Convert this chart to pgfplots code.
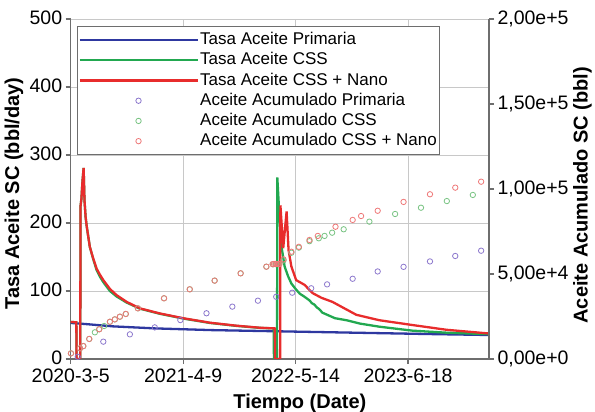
\documentclass[border=0pt]{standalone}
\usepackage{pgfplots}
\pgfplotsset{compat=1.18}
\usepackage{fontspec}
\setmainfont{Liberation Sans}
\definecolor{cblue}{RGB}{46,56,160}
\definecolor{cgreen}{RGB}{34,168,80}
\definecolor{cred}{RGB}{232,44,44}
\definecolor{mblue}{RGB}{140,120,205}
\definecolor{mgreen}{RGB}{120,195,130}
\definecolor{mred}{RGB}{238,120,120}
\definecolor{gridc}{RGB}{200,200,200}
\definecolor{axisc}{RGB}{110,110,110}
\newcommand\tickfont{\fontsize{19.5}{23}\selectfont}
\newcommand\labfont{\fontsize{20}{24}\selectfont\bfseries}
\newcommand\legfont{\fontsize{17}{20}\selectfont}
\pgfplotsset{
  lineleg/.style={legend image code/.code={\draw[mark repeat=2,mark phase=2,##1] plot coordinates {(0pt,0pt) (59pt,0pt) (118pt,0pt)};}},
  markleg/.style={legend image code/.code={\draw[##1] plot coordinates {(59pt,0pt)};}},
}

\pgfplotstableread{
d v
0 53
50 51.5
150 48
300 45
500 42.5
700 41
900 39.5
1100 38
1300 36.5
1488 35.3
}\ratePrim

\pgfplotstableread{
d v
0 54.5
20 54
21 0
34 0
35 225
38 235
42 262
46 281
49 234
53 209
57 195
68 165
80 147
92 131
104 121
116 113
139.5 100
163 92
199 83
246 74
317 66.5
400 59.5
495 53
589 48.7
672 45.8
722 45
723 0
734 0
735 267
740 229
745 195
750 165
761 136
773 122
785 111
800 103
815 96
830 92
850 86
858 82
867 80
875 76
882 74
896 68
940 60
981 57
1030 52
1098 47.5
1215 41.7
1336 38.7
1488 36.5
}\rateCSS

\pgfplotstableread{
d v
0 54.5
20 54
21 0
34 0
35 225
38 235
42 262
46 281
49 234
53 209
57 195
68 165
80 148
92 133
104 124
116 116
139.5 103
163 94
199 84
246 74.5
317 67
400 60
495 53.4
589 49
672 46
726 45
727 0
745 0
746 226
756 163
768 217
775 160
785 136
802 116
832 109
860 97
892 90
931 84
1016 65
1098 57
1215 50
1336 43
1488 37.5
}\rateNano

\pgfplotstableread{
d c
25 1300
116 10200
210.5 14500
299 18600
390 22900
483 26900
575 30800
666 34300
731 36600
788 39000
855.5 41600
912 43900
1003 47200
1092 51500
1184 54200
1278 57400
1368 60600
1460 63700
}\cumPrim

\pgfplotstableread{
d c
1 3300
33 6300
45 7600
66 11800
86 15700
101.5 17500
119 19400
139.5 21900
157 23300
175 24900
196 26500
239 29800
332 35700
423.5 41000
512 46100
604.5 50400
696 54300
720 55700
730 55800
740 55800
757 58000
785 62500
811.5 65500
849.5 69300
882.5 71000
903 72400
930 74300
971 76300
1062.5 80800
1154 85300
1246 89000
1338 92900
1430.5 96500
}\cumCSS

\pgfplotstableread{
d c
1 3300
33 6300
45 7600
66 11800
101.5 17500
139.5 21900
157 23300
175 24900
196 26500
239 29800
332 35700
423.5 41000
512 46100
604.5 50400
696 54300
718 55800
723 55900
728 55900
733 55900
738 55900
743 55900
757 58600
785 63100
811.5 66000
849.5 70000
879 72400
942 77800
1003 81800
1033 84100
1092 87200
1184 92400
1278 96900
1368 100800
1460 104300
}\cumNano

\begin{document}
\begin{tikzpicture}
\pgfplotsset{every axis/.append style={scale only axis, width=418.3pt, height=340pt, xmin=0, xmax=1488}}
\begin{axis}[
  axis x line*=bottom, axis y line*=left,
  ymin=0, ymax=500, ytick={0,100,...,500},
  xtick={0,400,800,1200}, xticklabels={2020-3-5,2021-4-9,2022-5-14,2023-6-18},
  grid=major, grid style={gridc, line width=0.9pt},
  axis line style={axisc, line width=1.3pt, -},
  tick style={axisc, line width=1.1pt},
  tick align=outside, major tick length=5pt,
  ticklabel style={font=\tickfont},
  xticklabel style={yshift=-1.5pt},
  yticklabel style={yshift=1pt},
  /pgf/number format/assume math mode=true,
  xlabel={Tiempo (Date)}, ylabel={Tasa Aceite SC (bbl/day)},
  label style={font=\labfont},
  xlabel style={at={([yshift=-44.5pt]axis description cs:0.548,0)}, anchor=center},
  ylabel style={at={([xshift=-56.7pt]axis description cs:0,0.487)}, anchor=center},
]
\addplot[cblue, line width=2.3pt] table[x=d,y=v] {\ratePrim};
\addplot[cgreen, line width=2.3pt] table[x=d,y=v] {\rateCSS};
\addplot[cred, line width=2.3pt] table[x=d,y=v] {\rateNano};
\end{axis}
\begin{axis}[
  axis x line=none, axis y line*=right,
  ymin=0, ymax=200000, ytick={0,50000,100000,150000,200000},
  yticklabels={{0,00e+0},{5,00e+4},{1,00e+5},{1,50e+5},{2,00e+5}},
  scaled y ticks=false,
  axis line style={axisc, line width=1.3pt, -},
  tick style={axisc, line width=1.1pt},
  tick align=outside, major tick length=5pt,
  yticklabel style={font=\tickfont},
  ylabel={Aceite Acumulado SC (bbl)},
  ylabel style={font=\labfont, at={([xshift=93.5pt]axis description cs:1,0.482)}, anchor=center},
  legend style={at={(0.015,0.979)}, anchor=north west, draw=axisc, line width=0.8pt, fill=white,
    font=\legfont, inner xsep=1pt, inner ysep=3.5pt, row sep=0pt,
    nodes={inner ysep=1.6pt, inner xsep=1.5pt, text height=13pt, text depth=4pt}},
  legend cell align=left,
  lineleg,
]
\addlegendimage{cblue, line width=2.3pt}
\addlegendentry{Tasa Aceite Primaria}
\addlegendimage{cgreen, line width=2.3pt}
\addlegendentry{Tasa Aceite CSS}
\addlegendimage{cred, line width=2.3pt}
\addlegendentry{Tasa Aceite CSS + Nano}
\addplot[only marks, mark=o, mark size=2.7pt, mark options={mblue, line width=0.8pt}, markleg] table[x=d,y=c] {\cumPrim};
\addlegendentry{Aceite Acumulado Primaria}
\addplot[only marks, mark=o, mark size=2.7pt, mark options={mgreen, line width=0.8pt}, markleg] table[x=d,y=c] {\cumCSS};
\addlegendentry{Aceite Acumulado CSS}
\addplot[only marks, mark=o, mark size=2.7pt, mark options={mred, line width=0.8pt}, markleg] table[x=d,y=c] {\cumNano};
\addlegendentry{Aceite Acumulado CSS + Nano}
\end{axis}
\pgfresetboundingbox
\path (-70.7pt,-53pt) rectangle (524.3pt,359pt);
\end{tikzpicture}
\end{document}
